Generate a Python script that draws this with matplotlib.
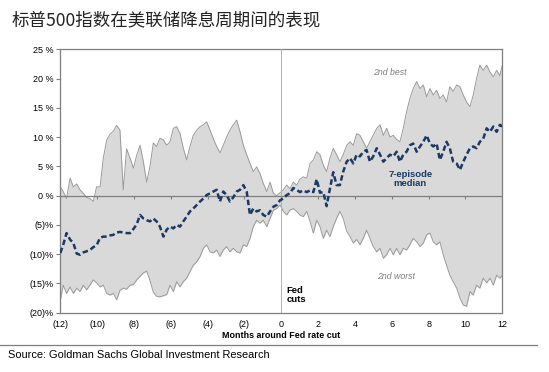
import matplotlib.pyplot as plt
import matplotlib.lines as mlines

# months around the Fed's first rate cut
months = [
    -12.00, -11.84, -11.66, -11.47, -11.29, -11.11, -10.93, -10.75, -10.57, -10.39, -10.21,
    -10.03, -9.84, -9.66, -9.48, -9.30, -9.12, -8.94, -8.76, -8.58, -8.40, -8.21, -8.03,
    -7.85, -7.67, -7.49, -7.31, -7.13, -6.95, -6.77, -6.59, -6.40, -6.22,
    -6.04, -5.86, -5.68, -5.50, -5.32, -5.14, -4.96, -4.78, -4.59, -4.41, -4.23, -4.05,
    -3.87, -3.69, -3.51, -3.33, -3.15, -2.97, -2.79, -2.61, -2.42, -2.24, -2.06, -1.88,
    -1.70, -1.52, -1.34, -1.16, -0.98, -0.79, -0.61, -0.43, -0.25,
    -0.07, 0.11, 0.29, 0.47, 0.65, 0.83, 1.01, 1.19, 1.38, 1.56, 1.74, 1.92, 2.10, 2.28,
    2.46, 2.64, 2.82, 3.00, 3.18, 3.36, 3.55, 3.73, 3.91, 4.09, 4.27, 4.45, 4.63, 4.81,
    4.99, 5.18, 5.36, 5.54, 5.72,
    5.90, 6.08, 6.26, 6.44, 6.62, 6.80, 6.98, 7.16, 7.35, 7.53, 7.71, 7.89, 8.07, 8.25,
    8.43, 8.61, 8.79, 8.97, 9.15, 9.33, 9.52, 9.70, 9.88, 10.06, 10.24, 10.42, 10.60,
    10.78, 10.96, 11.15, 11.33, 11.51, 11.69, 11.87, 12.00,
]

# 2nd best episode (%)
best2 = [
    1.5, 0.7, -0.5, 3.0, 1.5, 2.0, 1.0, 0.4, -0.3, -0.5, -1.0,
    1.5, 1.5, 6.5, 9.5, 10.5, 11.0, 12.0, 11.2, 1.0, 8.0, 6.4, 4.7,
    6.9, 8.6, 5.8, 2.3, 5.0, 9.0, 8.4, 9.8, 9.5, 8.6,
    9.2, 11.5, 11.8, 10.6, 8.1, 6.1, 8.4, 10.3, 11.2, 11.8, 12.1, 12.6,
    11.2, 9.7, 8.4, 7.3, 8.6, 10.0, 11.2, 12.1, 12.9, 10.9, 8.6, 7.0,
    5.5, 4.1, 4.9, 3.8, 2.1, 0.7, 2.3, 0.4, 0.0,
    0.5, 1.0, 1.8, 1.2, 2.3, 1.8, 2.8, 3.2, 3.0, 5.5, 6.1, 7.5, 7.0, 5.2,
    4.1, 6.4, 8.1, 7.0, 5.8, 7.0, 8.6, 9.2, 8.6, 10.6, 10.3, 9.2, 8.1, 9.2,
    10.3, 11.5, 12.1, 10.3, 11.5,
    10.0, 10.3, 9.6, 9.2, 11.5, 14.3, 16.6, 18.3, 19.5, 18.3, 18.9, 16.9, 18.3, 17.2,
    18.0, 16.6, 17.2, 16.0, 18.6, 17.8, 18.9, 18.6, 17.2, 16.0, 15.2, 17.2, 20.0,
    22.3, 21.4, 22.3, 21.1, 20.3, 21.4, 20.5, 22.3,
]

# 2nd worst episode (%)
worst2 = [
    -18.0, -15.3, -16.7, -15.6, -16.7, -15.8, -16.4, -15.3, -16.1, -15.3, -14.4,
    -14.9, -15.6, -15.3, -16.7, -17.0, -16.7, -17.8, -16.2, -15.8, -16.0, -15.3, -15.2,
    -14.4, -13.8, -13.2, -12.9, -14.5, -16.5, -17.2, -17.3, -17.1, -16.9,
    -15.3, -16.4, -14.7, -15.6, -14.7, -14.1, -13.0, -11.9, -11.3, -10.4, -9.0, -8.4,
    -9.6, -9.8, -9.3, -10.4, -9.3, -8.7, -9.6, -9.0, -9.6, -9.8, -8.4, -8.7,
    -7.3, -5.3, -4.2, -4.7, -4.2, -5.3, -3.9, -2.5, -2.2,
    -1.6, -2.7, -3.3, -2.5, -2.2, -2.7, -3.3, -3.6, -2.7, -4.4, -6.4, -4.2, -5.3, -7.3,
    -5.9, -7.0, -5.3, -3.9, -2.7, -3.9, -6.1, -7.0, -8.1, -7.5, -8.4, -7.3, -5.9, -7.3,
    -8.7, -9.6, -9.0, -10.7, -10.1,
    -9.0, -10.1, -9.0, -10.1, -9.0, -9.3, -8.4, -7.3, -7.9, -8.7, -8.1, -6.7, -6.4, -7.9,
    -8.4, -7.9, -10.1, -11.9, -13.6, -14.7, -15.8, -17.5, -18.7, -18.9, -16.4, -17.0, -15.3,
    -15.8, -14.1, -14.9, -14.1, -15.3, -13.6, -14.1, -13.6,
]

# 7-episode median (%)
median = [
    -9.8, -8.4, -6.4, -7.5, -8.1, -9.9, -10.1, -9.7, -9.5, -9.3, -8.8,
    -8.5, -7.2, -7.0, -7.0, -6.8, -6.7, -6.3, -6.2, -6.3, -6.4, -6.4, -5.7,
    -4.9, -3.3, -3.9, -4.2, -4.4, -3.9, -4.4, -5.3, -7.0, -5.8,
    -5.3, -5.6, -5.0, -5.3, -4.4, -3.6, -2.7, -2.2, -1.6, -1.0, -0.5, 0.1,
    0.4, 0.7, 1.0, -1.0, 0.7, 0.1, -1.0, -0.3, 0.7, 1.0, 1.8, 0.7,
    -3.3, -2.2, -2.7, -2.5, -3.3, -3.6, -2.7, -1.9, -1.6,
    -0.8, -0.5, 0.1, 0.4, 1.3, 1.0, 0.6, 0.9, 0.6, 0.9, 0.6, 2.8, 0.5, 0.6,
    -1.8, 1.2, 4.0, 1.8, 1.8, 4.1, 5.8, 6.4, 5.5, 7.0, 6.7, 7.5, 7.8, 5.8,
    6.7, 8.1, 7.0, 5.8, 6.4,
    7.0, 6.7, 7.5, 5.8, 7.0, 7.5, 8.6, 8.9, 7.5, 8.4, 9.2, 10.3, 8.9, 8.4,
    8.9, 6.1, 7.5, 9.2, 8.1, 5.8, 5.5, 4.4, 5.8, 7.0, 8.1, 8.4, 8.1,
    9.2, 9.7, 11.5, 10.9, 11.8, 10.9, 12.1, 11.8,
]

xticks = [-12, -10, -8, -6, -4, -2, 0, 2, 4, 6, 8, 10, 12]
yticks = [25, 20, 15, 10, 5, 0, -5, -10, -15, -20]

def x_label(v):
    return f"({-v})" if v < 0 else str(v)

def y_label(v):
    return f"({-v})%" if v < 0 else f"{v} %"

plt.rcParams['font.family'] = ['Liberation Sans', 'DejaVu Sans']

fig = plt.figure(figsize=(5.49, 3.72), dpi=100)
ax = fig.add_axes([0.1098, 0.1594, 0.8052, 0.7081])

ax.fill_between(months, worst2, best2, color='#d9d9d9', lw=0, zorder=1)
ax.plot(months, best2, color='#9a9a9a', lw=0.7, zorder=2)
ax.plot(months, worst2, color='#9a9a9a', lw=0.7, zorder=2)
ax.axhline(0, color='#7f7f7f', lw=0.9, zorder=3)
ax.axvline(0, color='#b0b0b0', lw=0.7, zorder=3)
ax.vlines(xticks, -0.5, 0, color='#7f7f7f', lw=0.8, zorder=3)
ax.plot(months, median, color='#1b3a63', lw=1.8, ls=(0, (2.2, 1.2)), zorder=4)

ax.set_xlim(-12, 12)
ax.set_ylim(-20, 25)
ax.set_xticks(xticks)
ax.set_xticklabels([x_label(v) for v in xticks], fontsize=6.5)
ax.set_yticks(yticks)
ax.set_yticklabels([y_label(v) for v in yticks], fontsize=6.5)
ax.tick_params(axis='x', length=0, pad=5)
ax.tick_params(axis='y', length=3, width=0.8, color='#7f7f7f', pad=2)
for s in ax.spines.values():
    s.set_color('#7f7f7f')
    s.set_linewidth(0.9)
ax.set_xlabel('Months around Fed rate cut', fontsize=6.4, fontweight='bold', labelpad=2)

ax.text(5.9, 21.1, '2nd best', fontsize=6.3, style='italic', color='#7f7f7f',
        ha='center', va='center')
ax.text(7.0, 2.8, '7-episode\nmedian', fontsize=6.8, fontweight='bold', color='#1b3a63',
        ha='center', va='center', linespacing=1.0)
ax.text(6.2, -13.9, '2nd worst', fontsize=6.3, style='italic', color='#7f7f7f',
        ha='center', va='center')
ax.text(0.3, -16.9, 'Fed\ncuts', fontsize=6.8, fontweight='bold', color='black',
        ha='left', va='center', linespacing=1.0)

fig.text(0.022, 0.946, '标普500指数在美联储降息周期间的表现', fontsize=12.6,
         family=['Noto Sans CJK SC', 'DejaVu Sans'], color='#222222', va='center')
fig.add_artist(mlines.Line2D([0.0, 0.978], [0.073, 0.073], color='#7f7f7f', lw=0.9))
fig.text(0.015, 0.045, 'Source: Goldman Sachs Global Investment Research', fontsize=7.9,
         color='black', va='center')

fig.savefig('out.png', dpi=100)
